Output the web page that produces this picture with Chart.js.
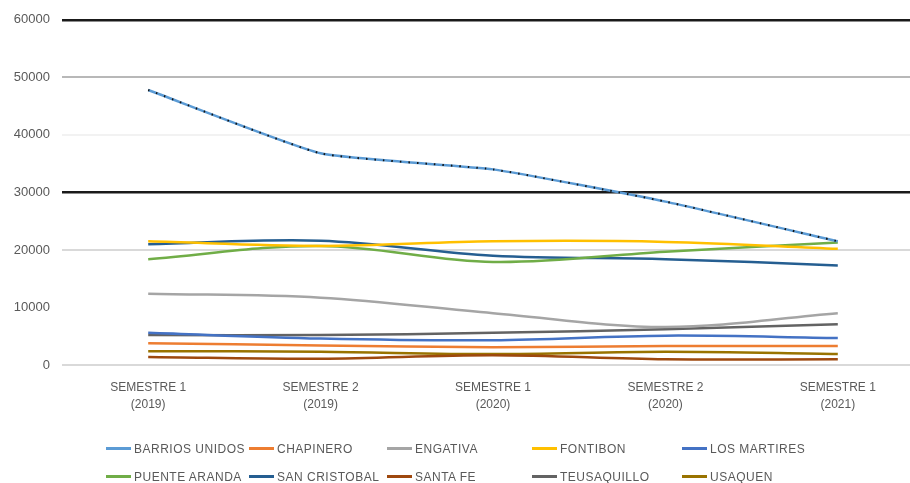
<!DOCTYPE html>
<html>
<head>
<meta charset="utf-8">
<script src="https://cdn.jsdelivr.net/npm/chart.js@4.4.1/dist/chart.umd.min.js"></script>
<style>
  html, body { margin: 0; padding: 0; background: #fff; overflow: hidden; }
  #wrap { position: relative; width: 926px; height: 483px; }
  #legend {
    position: absolute; left: 106px; top: 440px;
    display: grid; grid-template-columns: 143px 138px 145px 150px 160px; row-gap: 11px;
    font-family: "Liberation Sans", Arial, sans-serif; font-size: 12px; letter-spacing: 0.5px; color: #595959;
  }
  #legend .item { display: flex; align-items: center; white-space: nowrap; height: 17px; }
  #legend .sw { width: 25px; height: 3px; margin-right: 3px; }
</style>
</head>
<body>
<div id="wrap">
  <canvas id="chart" width="926" height="483"></canvas>
  <div id="legend"></div>
</div>
<script>
// categories
const semesters = [
  ["SEMESTRE 1", "(2019)"],
  ["SEMESTRE 2", "(2019)"],
  ["SEMESTRE 1", "(2020)"],
  ["SEMESTRE 2", "(2020)"],
  ["SEMESTRE 1", "(2021)"],
];

// series values per localidad
const barriosUnidos = [47800, 36800, 34000, 28400, 21500];
const chapinero = [3800, 3400, 3100, 3300, 3300];
const engativa = [12400, 11700, 9000, 6600, 9000];
const fontibon = [21500, 20700, 21500, 21400, 20200];
const losMartires = [5600, 4600, 4300, 5100, 4700];
const puenteAranda = [18400, 20700, 17900, 19700, 21300];
const sanCristobal = [21000, 21600, 19000, 18400, 17300];
const santaFe = [1400, 1100, 1700, 1000, 1000];
const teusaquillo = [5200, 5200, 5600, 6200, 7100];
const usaquen = [2400, 2300, 1900, 2300, 1900];

const seriesNames = ["BARRIOS UNIDOS", "CHAPINERO", "ENGATIVA", "FONTIBON", "LOS MARTIRES",
  "PUENTE ARANDA", "SAN CRISTOBAL", "SANTA FE", "TEUSAQUILLO", "USAQUEN"];
const seriesValues = [barriosUnidos, chapinero, engativa, fontibon, losMartires,
  puenteAranda, sanCristobal, santaFe, teusaquillo, usaquen];
const seriesColors = ["#5B9BD5", "#ED7D31", "#A5A5A5", "#FFC000", "#4472C4",
  "#70AD47", "#255E91", "#9E480E", "#636363", "#997300"];

// y axis ticks
const yTicks = [0, 10000, 20000, 30000, 40000, 50000, 60000];

// gridline look per tick value (as in the picture)
function gridColor(v) {
  if (v === 60000 || v === 30000) return "#1a1a1a";
  if (v === 50000) return "#b8b8b8";
  if (v === 40000) return "#f2f2f2";
  if (v === 10000) return "rgba(0,0,0,0)";
  return "#d9d9d9";
}

// black dotted overlay on the first series
const dottedOverlay = {
  id: "dottedOverlay",
  afterDatasetDraw(chart, args) {
    if (args.index !== 0) return;
    const line = args.meta.dataset;
    const ctx = chart.ctx;
    ctx.save();
    ctx.strokeStyle = "#111";
    ctx.lineWidth = 2;
    ctx.setLineDash([1.5, 7]);
    ctx.beginPath();
    line.path(ctx);
    ctx.stroke();
    ctx.restore();
  }
};

const datasets = seriesNames.map((name, i) => ({
  label: name,
  data: seriesValues[i],
  borderColor: seriesColors[i],
  backgroundColor: seriesColors[i],
  borderWidth: 2.5,
  pointRadius: 0,
  tension: i === 0 ? 0.15 : 0.35,
  fill: false,
}));

const chart = new Chart(document.getElementById("chart"), {
  type: "line",
  data: { labels: semesters, datasets: datasets },
  options: {
    responsive: false,
    animation: false,
    layout: { padding: { top: 7, right: 2, bottom: 68, left: 4 } },
    plugins: { legend: { display: false }, tooltip: { enabled: false } },
    scales: {
      x: {
        offset: true,
        grid: { display: false },
        border: { display: false },
        ticks: {
          color: "#595959", maxRotation: 0, autoSkip: false, padding: 6,
          font: { family: "Liberation Sans", size: 12, lineHeight: 1.45 },
        },
        afterFit(s) { s.height = 50; },
      },
      y: {
        min: 0, max: 60000,
        afterBuildTicks(s) { s.ticks = yTicks.map(v => ({ value: v })); },
        grid: {
          color: c => gridColor(c.tick.value),
          lineWidth: c => (c.tick.value === 60000 || c.tick.value === 30000) ? 2.5 : 2,
          drawTicks: false,
        },
        border: { display: false },
        ticks: {
          color: "#595959", padding: 12,
          font: { family: "Liberation Sans", size: 13 },
          callback: v => String(v),
        },
        afterFit(s) { s.width = 58; },
      },
    },
  },
  plugins: [dottedOverlay],
});

// legend in five columns
const legendEl = document.getElementById("legend");
seriesNames.forEach((name, i) => {
  const item = document.createElement("div");
  item.className = "item";
  const sw = document.createElement("span");
  sw.className = "sw";
  sw.style.background = seriesColors[i];
  item.appendChild(sw);
  item.appendChild(document.createTextNode(name));
  legendEl.appendChild(item);
});
</script>
</body>
</html>
